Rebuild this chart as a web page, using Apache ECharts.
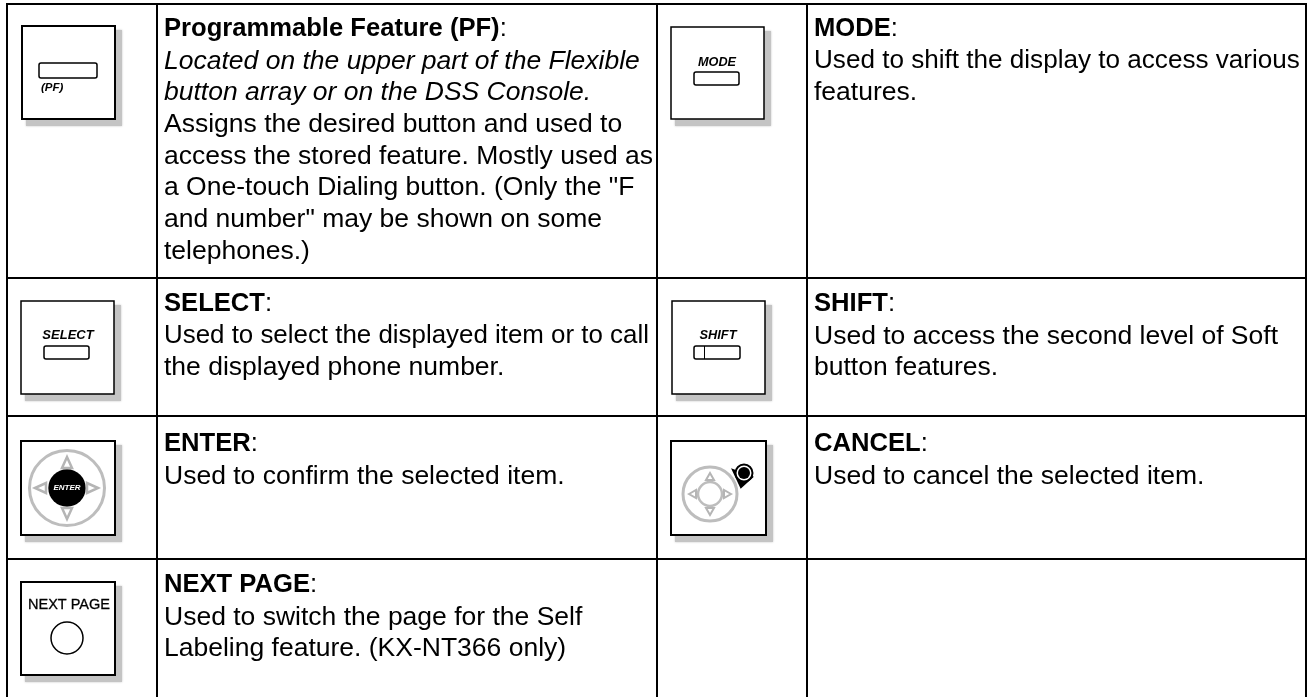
<!DOCTYPE html>
<html><head><meta charset="utf-8"><style>html,body{margin:0;padding:0;background:#fff}#c{width:1311px;height:697px}</style>
<script src="https://cdn.jsdelivr.net/npm/echarts@6/dist/echarts.min.js"></script></head>
<body><div id="c"></div>
<script>
var pfTitle='Programmable Feature (PF)';
var pfItalic=['Located on the upper part of the Flexible','button array or on the DSS Console.'];
var pfBody=['Assigns the desired button and used to','access the stored feature. Mostly used as','a One-touch Dialing button. (Only the "F','and number" may be shown on some','telephones.)'];
var modeTitle='MODE';
var modeBody=['Used to shift the display to access various','features.'];
var selectTitle='SELECT';
var selectBody=['Used to select the displayed item or to call','the displayed phone number.'];
var shiftTitle='SHIFT';
var shiftBody=['Used to access the second level of Soft','button features.'];
var enterTitle='ENTER';
var enterBody=['Used to confirm the selected item.'];
var cancelTitle='CANCEL';
var cancelBody=['Used to cancel the selected item.'];
var nextTitle='NEXT PAGE';
var nextBody=['Used to switch the page for the Self','Labeling feature. (KX-NT366 only)'];

var fontFamily='Liberation Sans';
var fs=26.5, boldFs=25.6, lh=31.7;
var tightFs={'Used to shift the display to access various':26.1,'Used to select the displayed item or to call':25.9};
var colLines=[7,157,657,807,1306];
var rowLines=[4,278,416,559];
var bottomY=697;
var g=[];
function rect(x,y,w,h,fill,stroke,lw,r,extra){g.push({type:'rect',shape:{x:x,y:y,width:w,height:h,r:r||0},style:Object.assign({fill:fill||'transparent',stroke:stroke||null,lineWidth:lw||0},extra||{})});}
function line(a,b,c,d,col,lw){g.push({type:'line',shape:{x1:a,y1:b,x2:c,y2:d},style:{stroke:col||'#000',lineWidth:lw||2}});}
function text(x,y,t,o){g.push({type:'text',x:x,y:y,style:Object.assign({text:t,fontFamily:fontFamily,fontSize:fs,fill:'#000',verticalAlign:'top'},o||{})});}
function ctext(x,cy,t,o){g.push({type:'text',x:x,y:cy,style:Object.assign({text:t,fontFamily:fontFamily,fontSize:fs,fill:'#000',align:'center',verticalAlign:'middle'},o||{})});}
function circle(cx,cy,r,fill,stroke,lw){g.push({type:'circle',shape:{cx:cx,cy:cy,r:r},style:{fill:fill||'transparent',stroke:stroke||null,lineWidth:lw||0}});}
function tri(pts,stroke,lw){g.push({type:'polygon',shape:{points:pts},style:{fill:'#fff',stroke:stroke,lineWidth:lw}});}
colLines.forEach(function(x){line(x,rowLines[0]-1,x,bottomY,'#000',2);});
rowLines.forEach(function(y){line(colLines[0],y,colLines[4],y,'#000',2);});
function cell(x,y,title,italicLines,bodyLines){
  text(x,y,'{b|'+title+'}{n|:}',{rich:{b:{fontFamily:fontFamily,fontSize:boldFs,fontWeight:'bold',fill:'#000'},n:{fontFamily:fontFamily,fontSize:boldFs,fill:'#000'}}});
  var row=1;
  italicLines.forEach(function(l){text(x,y+lh*row,l,{fontStyle:'italic'});row++;});
  bodyLines.forEach(function(l){text(x,y+lh*row,l,{fontSize:tightFs[l]||fs});row++;});
}
cell(164,16,pfTitle,pfItalic,pfBody);
cell(814,16,modeTitle,[],modeBody);
cell(164,291,selectTitle,[],selectBody);
cell(814,291,shiftTitle,[],shiftBody);
cell(164,431,enterTitle,[],enterBody);
cell(814,431,cancelTitle,[],cancelBody);
cell(164,572,nextTitle,[],nextBody);
function key(x,y,w,h,lw){
  rect(x+4,y+4,w+3,h+3,'#c4c4c4',null,0,0,{shadowBlur:2,shadowColor:'#c4c4c4'});
  rect(x,y,w,h,'#fff','#000',lw);
}
var lab={fontStyle:'italic',fontWeight:'bold'};
function L(s){return Object.assign({fontSize:s},lab);}
key(22,26,93,93,2);
rect(39,63,58,15,'#fff','#000',1.5,2);
text(41,82,'(PF)',L(11.5));
key(671,27,93,92,1.5);
ctext(717,62,'MODE',L(12.7));
rect(694,72,45,13,'#fff','#000',1.5,2);
key(21,301,93,93,1.5);
ctext(68,335,'SELECT',L(13));
rect(44,346,45,13,'#fff','#000',1.5,2);
key(672,301,93,93,1.5);
ctext(718,335,'SHIFT',L(12.8));
rect(694,346,46,13,'#fff','#000',1.5,2);
line(704.5,346,704.5,359,'#000',1);
key(21,441,94,94,2);
circle(67,488,37.5,null,'#bdbdbd',3);
circle(67,488,18.7,'#000');
ctext(67,488,'ENTER',{fontSize:8,fontStyle:'italic',fontWeight:'bold',fill:'#fff'});
tri([[67,457],[62,468],[72,468]],'#b5b5b5',2.5);
tri([[67,519],[62,508],[72,508]],'#b5b5b5',2.5);
tri([[35,488],[46,483],[46,493]],'#b5b5b5',2.5);
tri([[98,488],[87,483],[87,493]],'#b5b5b5',2.5);
key(671,441,95,94,2);
circle(710,494,27,null,'#bdbdbd',3);
circle(710,494,12,null,'#bdbdbd',2.5);
tri([[710,473],[706,480],[714,480]],'#b5b5b5',2);
tri([[710,515],[706,508],[714,508]],'#b5b5b5',2);
tri([[689,494],[696,490],[696,498]],'#b5b5b5',2);
tri([[731,494],[724,490],[724,498]],'#b5b5b5',2);
g.push({type:'polygon',shape:{points:[[733,470],[741,487],[752,477]]},style:{fill:'#000',stroke:'#000',lineWidth:2}});
circle(744,473,8.5,'#fff','#000',2);
circle(744,473,6,'#000');
key(21,582,94,93,2);
ctext(69,605,'NEXT PAGE',{fontSize:14.5,stroke:'#000',lineWidth:0.3});
circle(67,638,16,'#fff','#000',1.5);
var chart=echarts.init(document.getElementById('c'),null,{renderer:'canvas'});
chart.setOption({animation:false,backgroundColor:'#fff',graphic:{elements:g}});
</script></body></html>
